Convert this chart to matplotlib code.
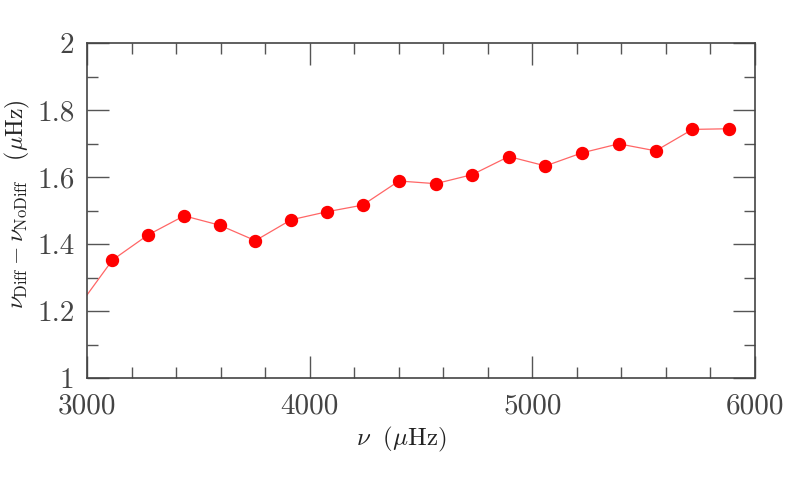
import matplotlib
matplotlib.use("Agg")
import matplotlib.pyplot as plt

plt.rcParams['font.family'] = 'cmr10'
plt.rcParams['mathtext.fontset'] = 'cm'
plt.rcParams['axes.formatter.use_mathtext'] = True

# frequency (muHz) and frequency shift (muHz); first point lies just off the left edge
nu = [2953, 3114, 3274, 3436, 3596, 3756, 3916, 4076, 4238, 4401,
      4566, 4730, 4894, 5059, 5223, 5388, 5554, 5719, 5884]
dnu = [1.206, 1.353, 1.428, 1.485, 1.457, 1.411, 1.473, 1.497, 1.517, 1.589,
       1.581, 1.608, 1.662, 1.634, 1.673, 1.700, 1.679, 1.743, 1.745]

x_ticks = [3000, 4000, 5000, 6000]
x_labels = ['3000', '4000', '5000', '6000']
y_ticks = [1, 1.2, 1.4, 1.6, 1.8, 2]
y_labels = ['1', '1.2', '1.4', '1.6', '1.8', '2']

fig = plt.figure(figsize=(7.97, 4.84), dpi=100)
ax = fig.add_axes([0.1092, 0.2184, 0.8381, 0.6921])

ax.plot(nu, dnu, color='#ff6666', lw=0.9, zorder=2)
ax.plot(nu, dnu, 'o', color='red', ms=8.6, mec='red', zorder=3)

ax.set_xlim(3000, 6000)
ax.set_ylim(1, 2)
ax.set_xticks(x_ticks)
ax.set_xticklabels(x_labels)
ax.set_yticks(y_ticks)
ax.set_yticklabels(y_labels)
ax.set_xticks(range(3000, 6001, 200), minor=True)
ax.set_yticks([1 + 0.1 * i for i in range(11)], minor=True)

ax.tick_params(which='both', direction='in', top=True, right=True,
               color='#555555', width=1.0, labelcolor='#444444', labelsize=21)
ax.tick_params(which='major', length=16)
ax.tick_params(which='minor', length=8)
ax.xaxis.set_tick_params(which='major', pad=11)
ax.yaxis.set_tick_params(which='major', pad=9)
for sp in ax.spines.values():
    sp.set_color('#444444')
    sp.set_linewidth(1.2)

ax.set_xlabel(r'$\nu\ \ (\mu\mathrm{Hz})$', fontsize=18, color='#222222')
ax.xaxis.set_label_coords(0.47, -0.14)
ax.set_ylabel(r'$\nu_{\mathrm{Diff}} - \nu_{\mathrm{NoDiff}}\ \ \ (\mu\mathrm{Hz})$',
              fontsize=17, color='#222222')
ax.yaxis.set_label_coords(-0.083, 0.52)

fig.savefig('out.png', dpi=100)
